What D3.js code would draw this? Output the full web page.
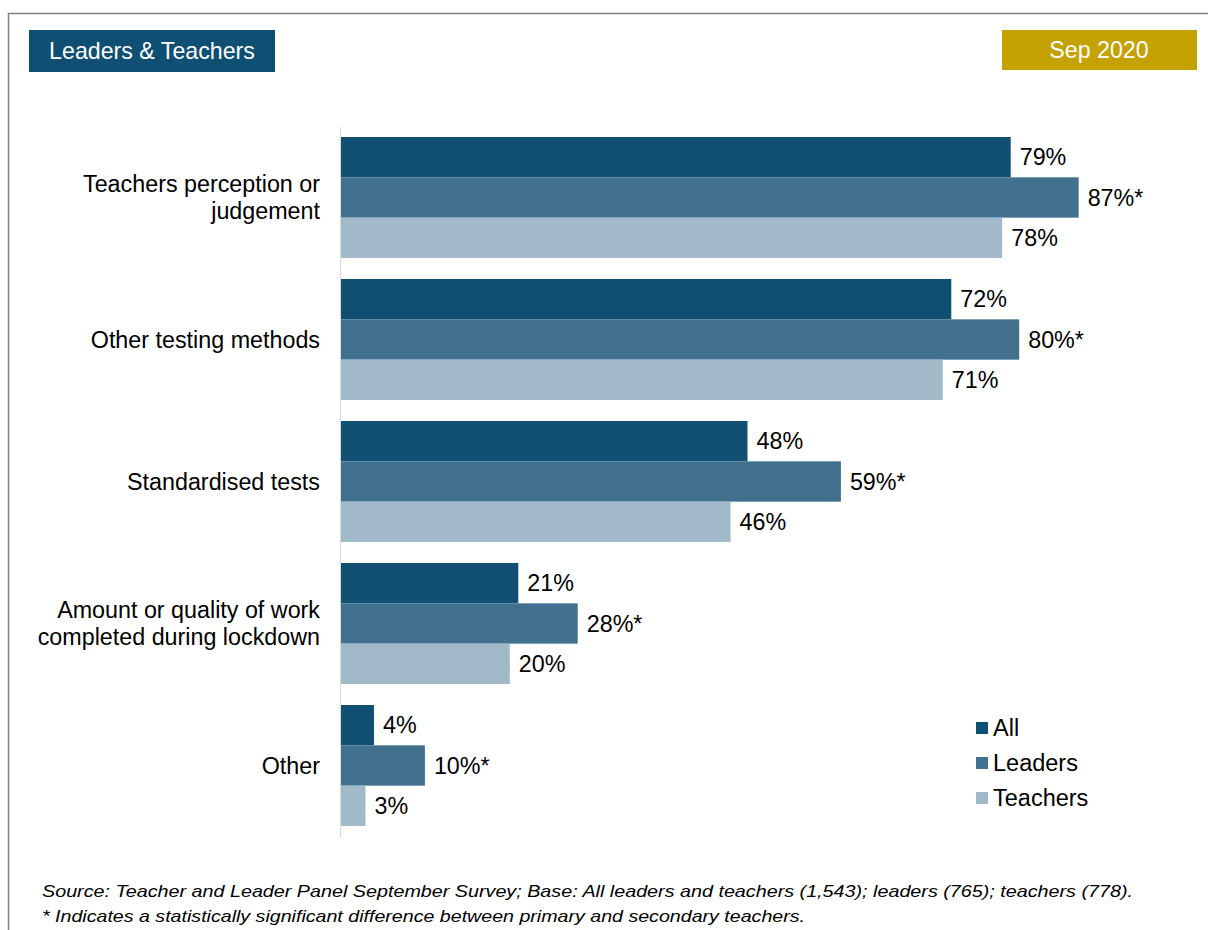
<!DOCTYPE html>
<html>
<head>
<meta charset="utf-8">
<script src="https://cdn.jsdelivr.net/npm/d3@7"></script>
<style>
  body { margin: 0; background: #fff; }
  text { font-family: "Liberation Sans", Arial, sans-serif; }
</style>
</head>
<body>
<svg id="chart" width="1208" height="930"></svg>
<script>
// data
const categories = [
  ['Teachers perception or', 'judgement'],
  ['Other testing methods'],
  ['Standardised tests'],
  ['Amount or quality of work', 'completed during lockdown'],
  ['Other']
];
const seriesNames = ['All', 'Leaders', 'Teachers'];
const allValues = [79, 72, 48, 21, 4];
const leaderValues = [87, 80, 59, 28, 10];
const teacherValues = [78, 71, 46, 20, 3];
const significant = [false, true, false]; // leaders marked with *
const colors = ['#114f73', '#41718f', '#a2b9ca'];

const fs = 23.3;
const svg = d3.select('#chart');

// frame
svg.append('rect')
  .attr('x', 8.5).attr('y', 13.5)
  .attr('width', 1220).attr('height', 940)
  .attr('fill', 'none')
  .attr('stroke', '#808080')
  .attr('stroke-width', 1.5);

// badges
svg.append('rect').attr('x', 29).attr('y', 30).attr('width', 246).attr('height', 42).attr('fill', '#0f4f73');
svg.append('text').attr('x', 152).attr('y', 59).attr('text-anchor', 'middle')
  .attr('fill', '#fff').attr('font-size', 23.2).text('Leaders & Teachers');
svg.append('rect').attr('x', 1002).attr('y', 30).attr('width', 195).attr('height', 40).attr('fill', '#c4a204');
svg.append('text').attr('x', 1099).attr('y', 58).attr('text-anchor', 'middle')
  .attr('fill', '#fff').attr('font-size', 23.2).text('Sep 2020');

const x = d3.scaleLinear().domain([0, 100]).range([340, 1189]);
const y = d3.scaleBand().domain(d3.range(categories.length))
  .range([126.5, 836.5]).paddingInner(21 / 142).paddingOuter(10.5 / 142);
const ySub = d3.scaleBand().domain(d3.range(seriesNames.length)).range([0, y.bandwidth()]);

const series = [allValues, leaderValues, teacherValues];

// axis line
svg.append('line')
  .attr('x1', x(0) + 0.5).attr('x2', x(0) + 0.5)
  .attr('y1', 127).attr('y2', 838)
  .attr('stroke', '#d9d9d9').attr('stroke-width', 1);

const groups = svg.selectAll('g.cat')
  .data(categories)
  .enter()
  .append('g')
  .attr('class', 'cat')
  .attr('transform', (d, i) => `translate(0, ${y(i)})`);

series.forEach((vals, s) => {
  groups.append('rect')
    .attr('x', x(0) + 1)
    .attr('y', ySub(s))
    .attr('width', (d, i) => x(vals[i]) - x(0) - 1)
    .attr('height', ySub.bandwidth())
    .attr('fill', colors[s]);

  groups.append('text')
    .attr('x', (d, i) => x(vals[i]) + 9)
    .attr('y', ySub(s) + ySub.bandwidth() / 2 + 8)
    .attr('font-size', fs)
    .attr('fill', '#000')
    .text((d, i) => vals[i] + '%' + (significant[s] ? '*' : ''));
});

// category labels
groups.each(function(lines) {
  const g = d3.select(this);
  const mid = y.bandwidth() / 2;
  lines.forEach((ln, k) => {
    g.append('text')
      .attr('x', 320)
      .attr('y', mid + 8 + (k - (lines.length - 1) / 2) * 27)
      .attr('text-anchor', 'end')
      .attr('font-size', fs)
      .attr('fill', '#000')
      .text(ln);
  });
});

// legend
const legend = svg.append('g');
seriesNames.forEach((name, i) => {
  legend.append('rect')
    .attr('x', 976).attr('y', 722 + i * 35)
    .attr('width', 12).attr('height', 12)
    .attr('fill', colors[i]);
  legend.append('text')
    .attr('x', 993).attr('y', 736 + i * 35)
    .attr('font-size', 23.5)
    .attr('fill', '#000')
    .text(name);
});

// footer
svg.append('text')
  .attr('x', 42).attr('y', 897)
  .attr('font-size', 17).attr('font-style', 'italic')
  .attr('textLength', 1091).attr('lengthAdjust', 'spacingAndGlyphs')
  .text('Source: Teacher and Leader Panel September Survey; Base: All leaders and teachers (1,543); leaders (765); teachers (778).');
svg.append('text')
  .attr('x', 42).attr('y', 922)
  .attr('font-size', 17).attr('font-style', 'italic')
  .attr('textLength', 763).attr('lengthAdjust', 'spacingAndGlyphs')
  .text('* Indicates a statistically significant difference between primary and secondary teachers.');
</script>
</body>
</html>
